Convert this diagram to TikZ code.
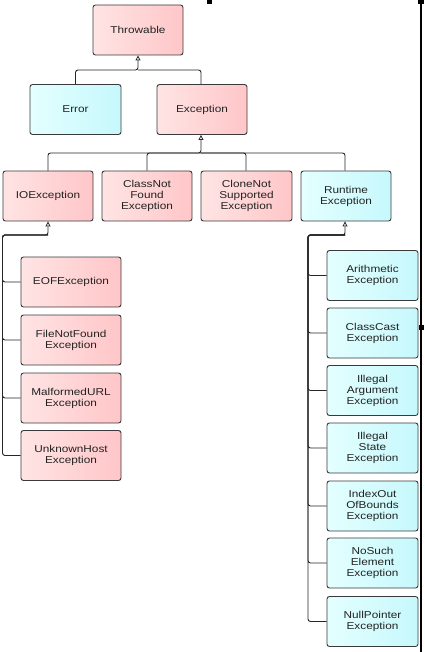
\documentclass[tikz,border=0pt]{standalone}
\usepackage{fontspec}
\setmainfont{Liberation Sans}[FakeStretch=1.18]
\usetikzlibrary{arrows.meta,shadings}
\definecolor{pinkA}{HTML}{FFE4E4}
\definecolor{pinkB}{HTML}{FFC6C8}
\definecolor{cyanA}{HTML}{E4FFFF}
\definecolor{cyanB}{HTML}{C6F8FC}
\definecolor{edge}{HTML}{3A3A3A}
\definecolor{txt}{HTML}{222222}
\tikzset{
  box/.style={draw=edge, line width=0.9pt, rounded corners=2.5pt, align=center,
    text=txt, font=\fontsize{10}{11}\selectfont, inner sep=1pt},
  pinkbox/.style={box, shading=axis, shading angle=135, left color=pinkA, right color=pinkB},
  cyanbox/.style={box, shading=axis, shading angle=135, left color=cyanA, right color=cyanB},
  wA/.style={minimum width=90pt, minimum height=50pt},
  wB/.style={minimum width=100pt, minimum height=50pt},
  wC/.style={minimum width=91pt, minimum height=50pt},
  line/.style={draw=black!85, line width=0.9pt, rounded corners=2.5pt},
  conn/.style={line, -{Triangle[open, fill=white, length=5pt, width=5pt, line width=0.8pt]}},
  handle/.style={fill=black, draw=none}
}
\begin{document}
\begin{tikzpicture}[x=1pt, y=-1pt]
\useasboundingbox (0,0) rectangle (424,652);
% frame artefacts
\fill[handle] (420.3,0) rectangle (421.8,652);
\fill[handle] (206.5,0) rectangle (211.5,4.5);
\fill[handle] (417.5,0) rectangle (424,4.5);
\fill[handle] (418.5,324.5) rectangle (424,329.5);

% top levels
\node[pinkbox, wA] (throwable) at (138,30) {Throwable};
\node[cyanbox, wC] (error) at (75.5,109.5) {Error};
\node[pinkbox, wA] (exception) at (202,109.5) {Exception};

\node[pinkbox, wA] (ioexc) at (48,196) {IOException};
\node[pinkbox, wA] (cnf) at (147,196) {ClassNot\\Found\\Exception};
\node[pinkbox, wC] (cns) at (246.5,196) {CloneNot\\Supported\\Exception};
\node[cyanbox, wA] (runtime) at (346,196) {Runtime\\Exception};

% IOException children
\node[pinkbox, wB] (eof) at (71,282) {EOFException};
\node[pinkbox, wB] (fnf) at (71,340) {FileNotFound\\Exception};
\node[pinkbox, wB] (mal) at (71,398) {MalformedURL\\Exception};
\node[pinkbox, wB] (unk) at (71,455.5) {UnknownHost\\Exception};

% Runtime children
\node[cyanbox, wC] (arith) at (372.5,275.5) {Arithmetic\\Exception};
\node[cyanbox, wC] (ccast) at (372.5,333) {ClassCast\\Exception};
\node[cyanbox, wC] (iarg) at (372.5,390.5) {Illegal\\Argument\\Exception};
\node[cyanbox, wC] (istate) at (372.5,448) {Illegal\\State\\Exception};
\node[cyanbox, wC] (ioob) at (372.5,506) {IndexOut\\OfBounds\\Exception};
\node[cyanbox, wC] (nse) at (372.5,563) {NoSuch\\Element\\Exception};
\node[cyanbox, wC] (npe) at (372.5,621.5) {NullPointer\\Exception};

% bus coordinates
\coordinate (busT) at (138,70);
\coordinate (busE) at (201,153);
\coordinate (busIO) at (2.5,235);
\coordinate (busIO2) at (48,235);
\coordinate (busRT) at (308,235);
\coordinate (busRT2) at (345,235);

% Throwable
\draw[line] (exception.north -| 201,0) |- (busT);
\draw[conn] (error.north) |- (busT) -- (throwable.south);

% Exception
\draw[line] (cnf.north) |- (busE);
\draw[line] ([xshift=-0.5pt]cns.north) |- (busE);
\draw[line] ([xshift=-1pt]runtime.north) |- (busE);
\draw[conn] (ioexc.north) |- (busE) -- (busE |- exception.south);

% IOException
\foreach \c in {fnf,mal,unk}
  \draw[line] (\c.west) -| (busIO) -- (busIO2);
\draw[conn] (eof.west) -| (busIO) -| (ioexc.south);

% Runtime
\foreach \c in {ccast,iarg,istate,ioob,nse,npe}
  \draw[line] (\c.west) -| (busRT) -- (busRT2);
\draw[conn] (arith.west) -| (busRT) -| (busRT2 |- runtime.south);
\end{tikzpicture}
\end{document}
